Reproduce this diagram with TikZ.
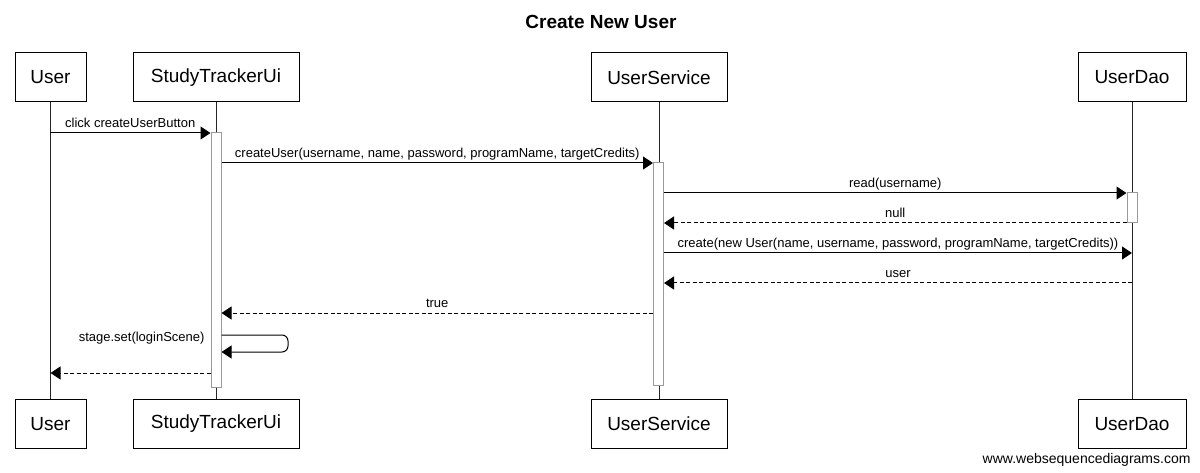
\documentclass[tikz,border=0pt]{standalone}
\usepackage{fontspec}
\setmainfont{Liberation Sans}
\usetikzlibrary{arrows.meta}
\begin{document}
\begin{tikzpicture}[x=1pt,y=-1pt,line width=1pt,
  actor/.style={draw, fill=white, minimum height=49pt, inner sep=0pt, font=\fontsize{19}{22}\selectfont},
  msg/.style={-{Triangle[length=10pt,width=13pt]}},
  ret/.style={msg, dash pattern=on 4pt off 2.5pt},
  lbl/.style={font=\fontsize{13}{15}\selectfont, inner sep=0pt, anchor=base},
  actbox/.style={draw=gray!80, fill=white, minimum width=10pt, inner sep=0pt},
  life/.style={draw=black!85}
]
\useasboundingbox (0,0) rectangle (1200,473);
\node[font=\bfseries\fontsize{19}{22}\selectfont, anchor=base] (title) at (601,29) {Create New User};

% top actors
\node[actor, minimum width=71pt] (u1) at (50.5,77.5) {User};
\node[actor, minimum width=166pt] (s1) at (216,77.5) {StudyTrackerUi};
\node[actor, minimum width=136pt] (v1) at (659,77.5) {UserService};
\node[actor, minimum width=108pt] (d1) at (1132,77.5) {UserDao};
% bottom actors
\node[actor, minimum width=71pt] (u2) at (50.5,424) {User};
\node[actor, minimum width=166pt] (s2) at (216,424) {StudyTrackerUi};
\node[actor, minimum width=136pt] (v2) at (659,424) {UserService};
\node[actor, minimum width=108pt] (d2) at (1132,424) {UserDao};

% lifelines
\draw[life] (u1.south) -- (u2.north);
\draw[life] (s1.south) -- (s2.north);
\draw[life] (v1.south) -- (v2.north);
\draw[life] (d1.south) -- (d2.north);

% activations
\node[actbox, minimum height=254pt] (sa) at (216,260) {};
\node[actbox, minimum height=222pt] (va) at (658.5,274) {};
\node[actbox, minimum height=30pt] (da) at (1132,208) {};

% messages
\coordinate (m1a) at (50,133);
\draw[msg] (m1a) -- (sa.west |- m1a) node[lbl, pos=0.5, yshift=5pt] {click createUserButton};

\coordinate (m2a) at (sa.east |- 0,163);
\draw[msg] (m2a) -- (va.west |- m2a) node[lbl, pos=0.5, yshift=5pt] {createUser(username, name, password, programName, targetCredits)};

\coordinate (m3a) at (va.east |- 0,193);
\draw[msg] (m3a) -- (da.west |- m3a) node[lbl, pos=0.5, yshift=5pt] {read(username)};

\coordinate (m4a) at (da.west |- 0,223);
\draw[ret] (m4a) -- (va.east |- m4a) node[lbl, pos=0.5, yshift=5pt] {null};

\coordinate (m5a) at (va.east |- 0,253);
\draw[msg] (m5a) -- (d1.south |- m5a) node[lbl, pos=0.5, yshift=5pt] {create(new User(name, username, password, programName, targetCredits))};

\coordinate (m6a) at (d1.south |- 0,283);
\draw[ret] (m6a) -- (va.east |- m6a) node[lbl, pos=0.5, yshift=5pt] {user};

\coordinate (m7a) at (va.west |- 0,313);
\draw[ret] (m7a) -- (sa.east |- m7a) node[lbl, pos=0.5, yshift=5pt] {true};

% self message
\coordinate (m8a) at (sa.east |- 0,335);
\coordinate (m8b) at (sa.east |- 0,352);
\draw[msg, rounded corners=6pt] (m8a) -- (288,335) -- (288,352) -- (m8b);
\node[lbl, anchor=base east] (m8l) at (205,341) {stage.set(loginScene)};

\coordinate (m9a) at (sa.west |- 0,373);
\draw[ret] (m9a) -- (u1.south |- m9a);

\node[font=\fontsize{14}{16}\selectfont, anchor=base east, inner sep=0pt] (wm) at (1191,463) {www.websequencediagrams.com};
\end{tikzpicture}
\end{document}
